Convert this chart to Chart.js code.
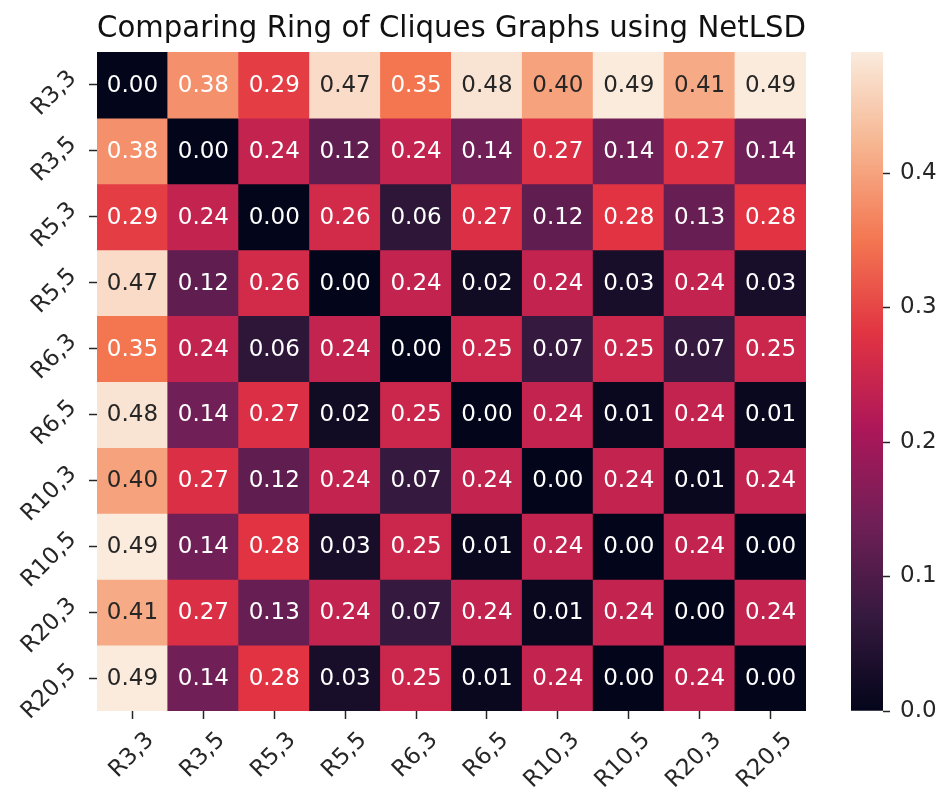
<!DOCTYPE html>
<html>
<head>
<meta charset="utf-8">
<script src="https://cdn.jsdelivr.net/npm/chart.js@4.4.0/dist/chart.umd.min.js"></script>
<style>
  html, body { margin: 0; padding: 0; background: #fff; }
  #wrap { position: relative; width: 944px; height: 794px; }
  #heat { position: absolute; left: 0; top: 0; }
  #cbar { position: absolute; left: 851px; top: 0; }
</style>
</head>
<body>
<div id="wrap">
  <canvas id="heat" width="944" height="794"></canvas>
  <canvas id="cbar" width="93" height="794"></canvas>
</div>
<script>
const GRAPH_NAMES = ['R3,3', 'R3,5', 'R5,3', 'R5,5', 'R6,3', 'R6,5', 'R10,3', 'R10,5', 'R20,3', 'R20,5'];

// NetLSD distances, one row per graph
const ROW_R3_3  = [0.00, 0.38, 0.29, 0.47, 0.35, 0.48, 0.40, 0.49, 0.41, 0.49];
const ROW_R3_5  = [0.38, 0.00, 0.24, 0.12, 0.24, 0.14, 0.27, 0.14, 0.27, 0.14];
const ROW_R5_3  = [0.29, 0.24, 0.00, 0.26, 0.06, 0.27, 0.12, 0.28, 0.13, 0.28];
const ROW_R5_5  = [0.47, 0.12, 0.26, 0.00, 0.24, 0.02, 0.24, 0.03, 0.24, 0.03];
const ROW_R6_3  = [0.35, 0.24, 0.06, 0.24, 0.00, 0.25, 0.07, 0.25, 0.07, 0.25];
const ROW_R6_5  = [0.48, 0.14, 0.27, 0.02, 0.25, 0.00, 0.24, 0.01, 0.24, 0.01];
const ROW_R10_3 = [0.40, 0.27, 0.12, 0.24, 0.07, 0.24, 0.00, 0.24, 0.01, 0.24];
const ROW_R10_5 = [0.49, 0.14, 0.28, 0.03, 0.25, 0.01, 0.24, 0.00, 0.24, 0.00];
const ROW_R20_3 = [0.41, 0.27, 0.13, 0.24, 0.07, 0.24, 0.01, 0.24, 0.00, 0.24];
const ROW_R20_5 = [0.49, 0.14, 0.28, 0.03, 0.25, 0.01, 0.24, 0.00, 0.24, 0.00];

const COLORBAR_TICKS = [0.0, 0.1, 0.2, 0.3, 0.4];

const distRows = [ROW_R3_3, ROW_R3_5, ROW_R5_3, ROW_R5_5, ROW_R6_3,
                  ROW_R6_5, ROW_R10_3, ROW_R10_5, ROW_R20_3, ROW_R20_5];
const vmin = 0;
const vmax = Math.max(...distRows.flat());

// seaborn "rocket" colormap, sampled
const ROCKET = [
  [0.000, [3, 5, 26]],
  [0.143, [53, 25, 62]],
  [0.286, [112, 31, 87]],
  [0.429, [173, 23, 89]],
  [0.571, [225, 51, 66]],
  [0.714, [243, 118, 81]],
  [0.857, [246, 180, 143]],
  [1.000, [250, 235, 221]]
];

function rocket(t) {
  t = Math.min(1, Math.max(0, t));
  for (let i = 1; i < ROCKET.length; i++) {
    if (t <= ROCKET[i][0]) {
      const [t0, c0] = ROCKET[i - 1];
      const [t1, c1] = ROCKET[i];
      const f = (t - t0) / (t1 - t0);
      return c0.map((c, k) => Math.round(c + (c1[k] - c) * f));
    }
  }
  return ROCKET[ROCKET.length - 1][1];
}
const rgbStr = c => `rgb(${c[0]},${c[1]},${c[2]})`;
const norm = v => (v - vmin) / (vmax - vmin);

// same rule seaborn uses for annotation colour
function textColorFor(v) {
  const lin = rocket(norm(v)).map(c => {
    c = c / 255;
    return c <= 0.03928 ? c / 12.92 : Math.pow((c + 0.055) / 1.055, 2.4);
  });
  const lum = 0.2126 * lin[0] + 0.7152 * lin[1] + 0.0722 * lin[2];
  return lum > 0.408 ? '#262626' : '#ffffff';
}

const FONT = 'DejaVu Sans';
const TEXT = '#262626';

const cellText = {
  id: 'cellText',
  afterDatasetsDraw(chart) {
    const ctx = chart.ctx;
    ctx.save();
    ctx.font = `23px "${FONT}"`;
    ctx.textAlign = 'center';
    ctx.textBaseline = 'middle';
    chart.data.datasets.forEach((ds, r) => {
      chart.getDatasetMeta(r).data.forEach((bar, c) => {
        const v = distRows[r][c];
        const p = bar.getCenterPoint();
        ctx.fillStyle = textColorFor(v);
        ctx.fillText(v.toFixed(2), p.x, p.y + 1);
      });
    });
    ctx.restore();
  }
};

const heatDatasets = distRows.map((row, r) => ({
  label: GRAPH_NAMES[r],
  data: row.map(() => [r, r + 1]),
  backgroundColor: row.map(v => rgbStr(rocket(norm(v)))),
  borderWidth: 0,
  inflateAmount: 0.5,
  barPercentage: 1,
  categoryPercentage: 1,
  grouped: false
}));

new Chart(document.getElementById('heat'), {
  type: 'bar',
  data: { labels: GRAPH_NAMES, datasets: heatDatasets },
  options: {
    responsive: false,
    animation: false,
    devicePixelRatio: 1,
    layout: { padding: { left: 0, right: 138, top: 0, bottom: 0 } },
    plugins: {
      legend: { display: false },
      tooltip: { enabled: false },
      title: {
        display: true,
        text: 'Comparing Ring of Cliques Graphs using NetLSD',
        fullSize: false,
        color: '#111',
        font: { family: FONT, size: 30, weight: 'normal', lineHeight: 1.2 },
        padding: { top: 11, bottom: 5 }
      }
    },
    scales: {
      x: {
        type: 'category',
        offset: true,
        grid: { display: true, drawOnChartArea: false, drawTicks: true, offset: false,
                tickLength: 8, tickColor: TEXT, tickWidth: 1.5 },
        border: { display: false },
        ticks: { autoSkip: false, minRotation: 45, maxRotation: 45, padding: 8, labelOffset: 18,
                 color: TEXT, font: { family: FONT, size: 23 } },
        afterFit: s => { s.height = 83; }
      },
      y: {
        type: 'linear',
        min: 0,
        max: GRAPH_NAMES.length,
        reverse: true,
        afterBuildTicks: s => { s.ticks = GRAPH_NAMES.map((_, i) => ({ value: i + 0.5 })); },
        grid: { display: true, drawOnChartArea: false, drawTicks: true,
                tickLength: 8, tickColor: TEXT, tickWidth: 1.5 },
        border: { display: false },
        ticks: { autoSkip: false, minRotation: 45, maxRotation: 45, padding: 16, labelOffset: -10,
                 color: TEXT, font: { family: FONT, size: 23 },
                 callback: v => GRAPH_NAMES[Math.floor(v)] },
        afterFit: s => { s.width = 97; }
      }
    }
  },
  plugins: [cellText]
});

// colour bar
function barGradient(chart) {
  const area = chart.chartArea;
  if (!area) return rgbStr(rocket(0.5));
  const g = chart.ctx.createLinearGradient(0, area.bottom, 0, area.top);
  ROCKET.forEach(([t, c]) => g.addColorStop(t, rgbStr(c)));
  return g;
}

new Chart(document.getElementById('cbar'), {
  type: 'bar',
  data: {
    labels: [''],
    datasets: [{
      data: [[vmin, vmax]],
      backgroundColor: ctx => barGradient(ctx.chart),
      borderWidth: 0,
      barPercentage: 1,
      categoryPercentage: 1
    }]
  },
  options: {
    responsive: false,
    animation: false,
    devicePixelRatio: 1,
    layout: { padding: { top: 52, bottom: 83, left: 0, right: 0 } },
    plugins: { legend: { display: false }, tooltip: { enabled: false } },
    scales: {
      x: { display: false },
      y: {
        position: 'right',
        min: vmin,
        max: vmax,
        afterBuildTicks: s => { s.ticks = COLORBAR_TICKS.map(v => ({ value: v })); },
        grid: { display: true, drawOnChartArea: false, drawTicks: true,
                tickLength: 7, tickColor: TEXT, tickWidth: 1.5 },
        border: { display: false },
        ticks: { padding: 10, color: TEXT, font: { family: FONT, size: 23 },
                 callback: v => v.toFixed(1) },
        afterFit: s => { s.width = 61; }
      }
    }
  }
});
</script>
</body>
</html>
